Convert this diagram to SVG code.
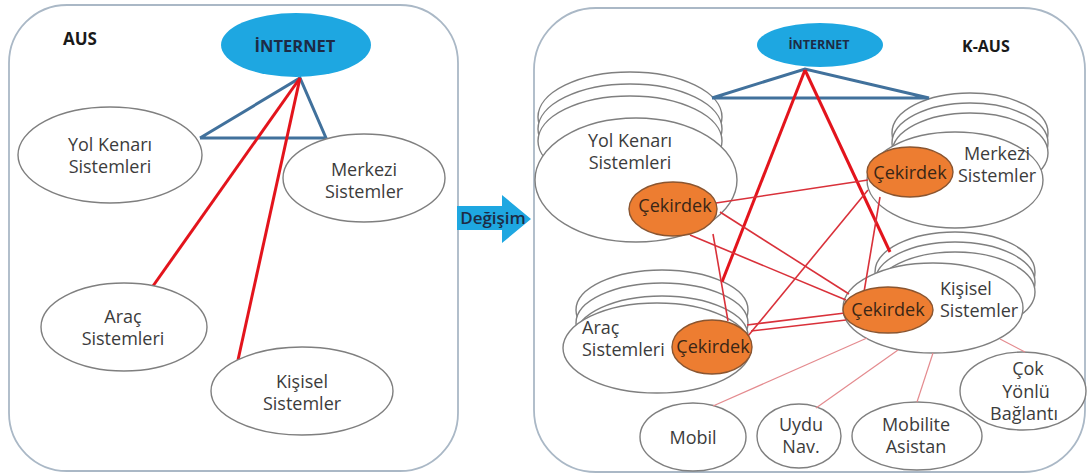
<svg xmlns="http://www.w3.org/2000/svg" width="1088" height="475" viewBox="0 0 1088 475">
  <style>
    .panel { fill: #ffffff; stroke: #aab8c6; stroke-width: 1.8; }
    .sys { fill: #ffffff; stroke: #7f7f7f; stroke-width: 1.4; }
    .net { fill: #1ea7e1; }
    .core { fill: #ed7d31; stroke: #8a5530; stroke-width: 1.4; }
    .lbl { font-family: "Open Sans", "Liberation Sans", sans-serif; font-size: 18px; fill: #3c3c3c; text-anchor: middle; }
    .start { text-anchor: start; }
    .head { font-family: "Open Sans", "Liberation Sans", sans-serif; font-weight: bold; fill: #1a1a1a; }
    .netlbl { font-family: "Open Sans", "Liberation Sans", sans-serif; font-weight: bold; fill: #1d2b45; text-anchor: middle; }
    .corelbl { font-family: "Open Sans", "Liberation Sans", sans-serif; font-size: 18px; fill: #3a2616; text-anchor: middle; }
    .tri { fill: none; stroke: #41719c; stroke-width: 3; stroke-linejoin: miter; }
    .thick { stroke: #e3141c; stroke-width: 3; fill: none; }
    .thin { stroke: #d9313a; stroke-width: 1.6; fill: none; }
    .pink { stroke: #e48b8f; stroke-width: 1.2; fill: none; }
  </style>

  <!-- frames -->
  <rect id="panel-aus" class="panel" x="9" y="5" width="449" height="466" rx="58" ry="58"/>
  <rect id="panel-kaus" class="panel" x="534" y="8" width="551" height="464" rx="62" ry="62"/>

  <!-- ===== AUS ===== -->
  <text class="head" x="63" y="45" font-size="17">AUS</text>

  <g id="aus-connectors">
    <polyline class="tri" points="200,138 300,78 326,138 200,138"/>
    <line class="thick" x1="300" y1="78" x2="153" y2="286"/>
    <line class="thick" x1="300" y1="78" x2="238" y2="360"/>
  </g>

  <g id="aus-internet">
    <ellipse class="net" cx="296" cy="45" rx="75" ry="32"/>
    <text class="netlbl" x="295" y="52" font-size="16.5">İNTERNET</text>
  </g>
  <g id="aus-yol">
    <ellipse class="sys" cx="110" cy="155" rx="92" ry="48"/>
    <text class="lbl" x="110" y="151">Yol Kenarı</text>
    <text class="lbl" x="110" y="173">Sistemleri</text>
  </g>
  <g id="aus-merkezi">
    <ellipse class="sys" cx="364" cy="178" rx="81" ry="44"/>
    <text class="lbl" x="364" y="176">Merkezi</text>
    <text class="lbl" x="364" y="198">Sistemler</text>
  </g>
  <g id="aus-arac">
    <ellipse class="sys" cx="124" cy="327" rx="83" ry="44"/>
    <text class="lbl" x="123" y="323">Araç</text>
    <text class="lbl" x="123" y="345">Sistemleri</text>
  </g>
  <g id="aus-kisisel">
    <ellipse class="sys" cx="302" cy="391" rx="91" ry="44"/>
    <text class="lbl" x="302" y="388">Kişisel</text>
    <text class="lbl" x="302" y="410">Sistemler</text>
  </g>

  <!-- ===== transition arrow ===== -->
  <g id="degisim">
    <polygon points="457,206 502,206 502,195 531,219 502,243 502,230 457,230" fill="#1ea7e1"/>
    <text x="493" y="224" font-family="Open Sans, Liberation Sans, sans-serif" font-size="17" font-weight="600" fill="#1d2b45" text-anchor="middle">Değişim</text>
  </g>

  <!-- ===== K-AUS ===== -->
  <text class="head" x="962" y="52" font-size="16">K-AUS</text>

  <g id="kaus-internet">
    <ellipse class="net" cx="820" cy="45" rx="63" ry="22"/>
    <text class="netlbl" x="819" y="49" font-size="12.5">İNTERNET</text>
  </g>

  <g id="kaus-yol">
    <ellipse class="sys" cx="630" cy="117" rx="92" ry="45"/>
    <ellipse class="sys" cx="630" cy="129" rx="92" ry="45"/>
    <ellipse class="sys" cx="630" cy="141" rx="92" ry="45"/>
    <ellipse class="sys" cx="636" cy="180" rx="101" ry="62"/>
    <text class="lbl" x="630" y="147">Yol Kenarı</text>
    <text class="lbl" x="630" y="169">Sistemleri</text>
  </g>
  <g id="kaus-merkezi">
    <ellipse class="sys" cx="970" cy="133" rx="78" ry="40"/>
    <ellipse class="sys" cx="970" cy="143" rx="78" ry="40"/>
    <ellipse class="sys" cx="970" cy="153" rx="78" ry="40"/>
    <ellipse class="sys" cx="955" cy="180" rx="88" ry="48"/>
    <text class="lbl" x="997" y="160">Merkezi</text>
    <text class="lbl" x="997" y="182">Sistemler</text>
  </g>
  <g id="kaus-kisisel">
    <ellipse class="sys" cx="955" cy="272" rx="80" ry="40"/>
    <ellipse class="sys" cx="955" cy="282" rx="80" ry="40"/>
    <ellipse class="sys" cx="955" cy="292" rx="80" ry="40"/>
    <ellipse class="sys" cx="933" cy="308" rx="90" ry="45"/>
    <text class="lbl start" x="940" y="295">Kişisel</text>
    <text class="lbl start" x="940" y="317">Sistemler</text>
  </g>
  <g id="kaus-arac">
    <ellipse class="sys" cx="662" cy="310" rx="86" ry="40"/>
    <ellipse class="sys" cx="662" cy="323" rx="86" ry="40"/>
    <ellipse class="sys" cx="662" cy="336" rx="86" ry="40"/>
    <ellipse class="sys" cx="657" cy="348" rx="94" ry="45"/>
    <text class="lbl start" x="582" y="334">Araç</text>
    <text class="lbl start" x="582" y="356">Sistemleri</text>
  </g>

  <g id="kaus-mobil">
    <ellipse class="sys" cx="693" cy="437" rx="53" ry="34"/>
    <text class="lbl" x="693" y="444">Mobil</text>
  </g>
  <g id="kaus-uydu">
    <ellipse class="sys" cx="799" cy="436" rx="42" ry="32"/>
    <text class="lbl" x="801" y="431">Uydu</text>
    <text class="lbl" x="801" y="453">Nav.</text>
  </g>
  <g id="kaus-mobilite">
    <ellipse class="sys" cx="917" cy="436" rx="65" ry="34"/>
    <text class="lbl" x="916" y="431">Mobilite</text>
    <text class="lbl" x="916" y="453">Asistan</text>
  </g>
  <g id="kaus-cok">
    <ellipse class="sys" cx="1023" cy="391" rx="63" ry="39"/>
    <text class="lbl" x="1028" y="375">Çok</text>
    <text class="lbl" x="1026" y="398">Yönlü</text>
    <text class="lbl" x="1024" y="420">Bağlantı</text>
  </g>

  <!-- links between the systems -->
  <g id="kaus-connectors">
    <polyline class="tri" points="712,98 805,69 929,98 712,98"/>
    <line class="thick" x1="805" y1="70" x2="722" y2="282"/>
    <line class="thick" x1="805" y1="70" x2="890" y2="252"/>

    <line class="thin" x1="716" y1="203" x2="868" y2="180"/>
    <line class="thin" x1="720" y1="212" x2="849" y2="294"/>
    <line class="thin" x1="690" y1="235" x2="846" y2="300"/>
    <line class="thin" x1="713" y1="234" x2="728" y2="321"/>
    <line class="thin" x1="868" y1="190" x2="748" y2="336"/>
    <line class="thin" x1="880" y1="197" x2="864" y2="292"/>
    <line class="thin" x1="747" y1="325" x2="845" y2="313"/>
    <line class="thin" x1="751" y1="331" x2="846" y2="320"/>

    <line class="pink" x1="867" y1="338" x2="713" y2="406"/>
    <line class="pink" x1="898" y1="350" x2="816" y2="408"/>
    <line class="pink" x1="933" y1="353" x2="917" y2="402"/>
    <line class="pink" x1="1000" y1="339" x2="1025" y2="352"/>
  </g>

  <!-- cores -->
  <g id="core-yol">
    <ellipse class="core" cx="673" cy="209" rx="44" ry="27"/>
    <text class="corelbl" x="675" y="212">Çekirdek</text>
  </g>
  <g id="core-merkezi">
    <ellipse class="core" cx="910" cy="172" rx="43" ry="25"/>
    <text class="corelbl" x="910" y="179">Çekirdek</text>
  </g>
  <g id="core-kisisel">
    <ellipse class="core" cx="888" cy="310" rx="45" ry="23"/>
    <text class="corelbl" x="888" y="316">Çekirdek</text>
  </g>
  <g id="core-arac">
    <ellipse class="core" cx="712" cy="347" rx="40" ry="27"/>
    <text class="corelbl" x="713" y="353" font-size="17">Çekirdek</text>
  </g>
</svg>
